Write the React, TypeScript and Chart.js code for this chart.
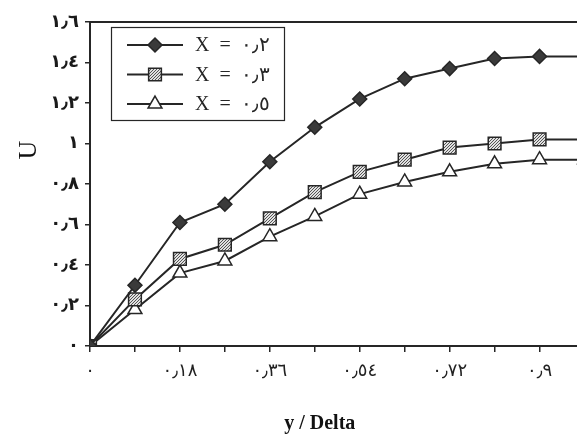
import React, { useEffect, useRef } from 'react';
import { Chart, registerables } from 'chart.js';
import { drawPoint } from 'chart.js/helpers';

Chart.register(...registerables);

const xValues = [0, 0.09, 0.18, 0.27, 0.36, 0.45, 0.54, 0.63, 0.72, 0.81, 0.9, 0.99];
const seriesX02 = [0, 0.3, 0.61, 0.7, 0.91, 1.08, 1.22, 1.32, 1.37, 1.42, 1.43, 1.43];
const seriesX03 = [0, 0.23, 0.43, 0.5, 0.63, 0.76, 0.86, 0.92, 0.98, 1.0, 1.02, 1.02];
const seriesX05 = [0, 0.18, 0.36, 0.42, 0.54, 0.64, 0.75, 0.81, 0.86, 0.9, 0.92, 0.92];
const seriesLabels = ['X  =  ٠٫٢', 'X  =  ٠٫٣', 'X  =  ٠٫٥'];
const xTickValues = [0, 0.09, 0.18, 0.27, 0.36, 0.45, 0.54, 0.63, 0.72, 0.81, 0.9, 0.99];
const xLabeledTicks = [0, 0.18, 0.36, 0.54, 0.72, 0.9];
const yTickValues = [0, 0.2, 0.4, 0.6, 0.8, 1, 1.2, 1.4, 1.6];
const xTitle = 'y / Delta';
const yTitle = 'U';

const INK = '#262626';
const AR = '٠١٢٣٤٥٦٧٨٩';
function toArabic(v: number): string {
  let s = (Math.round(v * 100) / 100).toString();
  return s.replace(/[0-9]/g, (d) => AR[+d]).replace('.', '٫');
}

function makePattern(): CanvasPattern | string {
  const c = document.createElement('canvas');
  c.width = 3; c.height = 3;
  const g = c.getContext('2d');
  if (!g) return '#999';
  g.fillStyle = '#e0e0e0';
  g.fillRect(0, 0, 3, 3);
  g.fillStyle = '#555';
  g.fillRect(0, 0, 1, 1);
  g.fillRect(2, 1, 1, 1);
  g.fillRect(1, 2, 1, 1);
  const p = g.createPattern(c, 'repeat');
  return p || '#999';
}

const overlay = {
  id: 'overlay',
  afterDraw(chart: any) {
    const { ctx, chartArea } = chart;
    ctx.save();
    ctx.strokeStyle = INK;
    ctx.lineWidth = 2;
    ctx.beginPath();
    ctx.moveTo(chartArea.left, chartArea.top);
    ctx.lineTo(chartArea.right, chartArea.top);
    ctx.stroke();

    // legend box
    ctx.lineWidth = 1.2;
    ctx.strokeRect(111.5, 27.5, 173, 93);
    chart.data.datasets.forEach((ds: any, i: number) => {
      const y = 45 + i * 29.5;
      ctx.strokeStyle = INK;
      ctx.lineWidth = 2;
      ctx.beginPath();
      ctx.moveTo(127, y);
      ctx.lineTo(183, y);
      ctx.stroke();
      ctx.fillStyle = ds.pointBackgroundColor;
      ctx.strokeStyle = INK;
      ctx.lineWidth = ds.pointBorderWidth;
      drawPoint(ctx, { pointStyle: ds.pointStyle, radius: ds.pointRadius, borderWidth: ds.pointBorderWidth, rotation: 0 }, 155, y);
      ctx.fillStyle = INK;
      ctx.font = '20px "Liberation Serif", "DejaVu Serif", serif';
      ctx.textBaseline = 'middle';
      ctx.textAlign = 'left';
      ctx.fillText(ds.label, 195, y + 1);
    });

    // axis titles
    const xs = chart.scales.x;
    ctx.fillStyle = '#111';
    ctx.font = 'bold 20px "Liberation Serif", "DejaVu Serif", serif';
    ctx.textAlign = 'center';
    ctx.textBaseline = 'middle';
    ctx.fillText(xTitle, xs.getPixelForValue(0.46), 424);

    ctx.save();
    ctx.translate(29, 150);
    ctx.rotate(-Math.PI / 2);
    ctx.font = '26px "Liberation Serif", "DejaVu Serif", serif';
    ctx.fillText(yTitle, 0, 0);
    ctx.restore();
    ctx.restore();
  },
};

export default function App() {
  const ref = useRef<HTMLCanvasElement | null>(null);
  useEffect(() => {
    if (!ref.current) return;
    const pattern = makePattern();
    const common = {
      borderColor: INK,
      borderWidth: 2,
      pointBorderColor: INK,
      pointBorderWidth: 1.5,
      tension: 0,
    };
    const chart = new Chart(ref.current, {
      type: 'line',
      data: {
        datasets: [
          {
            ...common,
            label: seriesLabels[0],
            data: xValues.map((x, i) => ({ x, y: seriesX02[i] })),
            pointStyle: 'rectRot',
            pointRadius: 7,
            pointBackgroundColor: '#3a3a3a',
          },
          {
            ...common,
            label: seriesLabels[1],
            data: xValues.map((x, i) => ({ x, y: seriesX03[i] })),
            pointStyle: 'rect',
            pointRadius: 9,
            pointBackgroundColor: pattern as any,
          },
          {
            ...common,
            label: seriesLabels[2],
            data: xValues.map((x, i) => ({ x, y: seriesX05[i] })),
            pointStyle: 'triangle',
            pointRadius: 8,
            pointBackgroundColor: '#ffffff',
          },
        ],
      },
      options: {
        animation: false,
        responsive: false,
        maintainAspectRatio: false,
        layout: { padding: { top: 22, left: 0, right: 10, bottom: 0 } },
        plugins: { legend: { display: false }, tooltip: { enabled: false } },
        scales: {
          x: {
            type: 'linear',
            min: 0,
            max: 1.0,
            afterBuildTicks: (s: any) => {
              s.ticks = xTickValues.map((v) => ({ value: v }));
            },
            afterFit: (s: any) => {
              s.height = 94;
            },
            ticks: {
              autoSkip: false,
              maxRotation: 0,
              color: '#222',
              padding: 9,
              font: { family: '"DejaVu Sans", sans-serif', size: 18 },
              callback: (v: any) => (xLabeledTicks.some((t) => Math.abs(t - v) < 1e-6) ? toArabic(v) : ''),
            },
            grid: { drawOnChartArea: false, drawTicks: true, tickLength: 6, color: INK, lineWidth: 1.5 },
            border: { color: INK, width: 2 },
          },
          y: {
            type: 'linear',
            min: 0,
            max: 1.6,
            afterBuildTicks: (s: any) => {
              s.ticks = yTickValues.map((v) => ({ value: v }));
            },
            afterFit: (s: any) => {
              s.width = 90;
            },
            ticks: {
              color: '#1a1a1a',
              padding: 6,
              font: { family: '"DejaVu Sans", sans-serif', size: 18, weight: 'bold' },
              callback: (v: any) => toArabic(v),
            },
            grid: { drawOnChartArea: false, drawTicks: true, tickLength: 5, color: INK, lineWidth: 1.5 },
            border: { color: INK, width: 2 },
          },
        },
      },
      plugins: [overlay],
    });
    return () => chart.destroy();
  }, []);
  return (
    <div style={{ position: 'fixed', left: 0, top: 0, width: 577, height: 440, overflow: 'hidden', background: '#fff' }}>
      <canvas ref={ref} width={600} height={440} style={{ display: 'block', width: 600, height: 440 }} />
    </div>
  );
}
